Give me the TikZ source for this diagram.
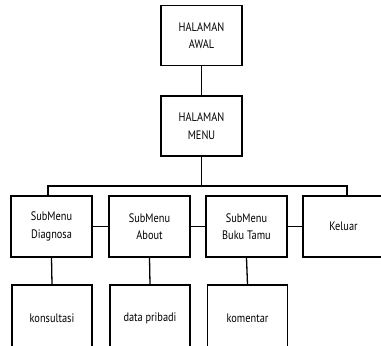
\documentclass[tikz,border=0pt]{standalone}
\usepackage{fontspec}
\setmainfont{PT Sans}[FakeStretch=0.84]
\begin{document}
\begin{tikzpicture}[x=1pt,y=-1pt,
  box/.style={draw,line width=1.3pt,inner sep=0pt,align=center,font=\fontsize{12.3}{17.5}\selectfont},
  conn/.style={line width=1.3pt}]
\useasboundingbox[fill=white] (0,0) rectangle (381,346);
\clip (0,0) rectangle (381,346);
\node[box,minimum width=81pt,minimum height=60pt] (awal) at (201.5,35.5) {HALAMAN\\AWAL};
\node[box,minimum width=81pt,minimum height=60pt] (menu) at (201.5,126) {HALAMAN\\MENU};
\node[box,minimum width=81pt,minimum height=61pt] (sub1) at (51.5,226.5) {SubMenu\\Diagnosa};
\node[box,minimum width=81pt,minimum height=61pt] (sub2) at (149.5,226.5) {SubMenu\\About};
\node[box,minimum width=81pt,minimum height=61pt] (sub3) at (246.5,226.5) {SubMenu\\Buku Tamu};
\node[box,minimum width=81pt,minimum height=61pt] (keluar) at (343.5,226.5) {Keluar};
\node[box,minimum width=80pt,minimum height=66pt] (bot1) at (52,318) {konsultasi};
\node[box,minimum width=80pt,minimum height=66pt] (bot2) at (150,318) {data pribadi};
\node[box,minimum width=80pt,minimum height=66pt] (bot3) at (247.5,318) {komentar};
\coordinate (busL) at (48,186);
\coordinate (busR) at (347,186);
\draw[conn] (awal) -- (menu);
\draw[conn] (menu.south) -- (menu.south |- busL);
\draw[conn] (busL |- sub1.north) -- (busL) -- (busR) -- (busR |- keluar.north);
\draw[conn] (sub1.east) -- (sub2.west);
\draw[conn] (sub2.east) -- (sub3.west);
\draw[conn] (sub3.east) -- (keluar.west);
\draw[conn] (sub1.south) -- (bot1.north);
\draw[conn] (sub2.south) -- (bot2.north);
\draw[conn] (sub3.south) -- (bot3.north);
\end{tikzpicture}
\end{document}
